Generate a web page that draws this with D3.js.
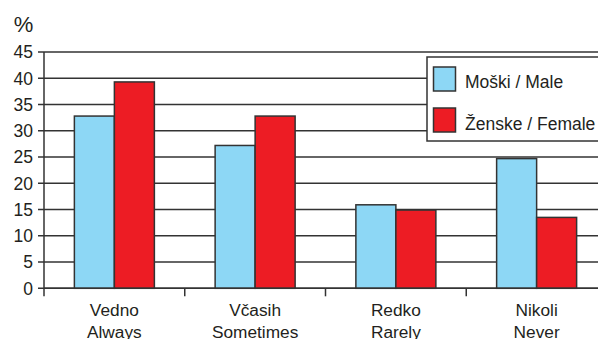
<!DOCTYPE html>
<html>
<head>
<meta charset="utf-8">
<script src="https://cdn.jsdelivr.net/npm/d3@7"></script>
<style>
  html, body { margin: 0; padding: 0; background: #fff; }
  svg { display: block; font-family: "Liberation Sans", Arial, Helvetica, sans-serif; }
</style>
</head>
<body>
<script>
// Answer categories (Slovene / English)
const categories = ["Vedno|Always", "Včasih|Sometimes", "Redko|Rarely", "Nikoli|Never"];
const seriesNames = ["Moški / Male", "Ženske / Female"];
const maleValues = [32.8, 27.2, 15.9, 24.7];
const femaleValues = [39.3, 32.8, 14.9, 13.5];
const yTicks = [0, 5, 10, 15, 20, 25, 30, 35, 40, 45];
const colors = ["#8dd7f5", "#ed1c24"];

const W = 598, H = 339;
const svg = d3.select("body").append("svg").attr("width", W).attr("height", H);

const x0 = 44, plotRight = 607, y0 = 288.3, yTop = 52;
const x = d3.scaleBand().domain(categories).range([x0, plotRight]).paddingInner(0).paddingOuter(0);
const y = d3.scaleLinear().domain([0, 45]).range([y0, yTop]);
const inner = d3.scaleBand().domain([0, 1]).range([0, 80]);

const ink = "#231f20";

// Horizontal gridlines with left ticks
svg.append("g").selectAll("line").data(yTicks).join("line")
  .attr("x1", x0 - 6).attr("x2", W)
  .attr("y1", d => y(d)).attr("y2", d => y(d))
  .attr("stroke", "#333").attr("stroke-width", 1.4);

// Y tick labels
svg.append("g").selectAll("text").data(yTicks).join("text")
  .attr("x", 33).attr("y", d => y(d) + 6.3)
  .attr("text-anchor", "end").attr("font-size", 17.5).attr("fill", ink)
  .text(d => d);

// Unit label
svg.append("text").attr("x", 23.5).attr("y", 31.7).attr("text-anchor", "middle")
  .attr("font-size", 22).attr("fill", ink).text("%");

// Bars
const data = categories.map((c, i) => ({ c, vals: [maleValues[i], femaleValues[i]] }));
const groups = svg.append("g").selectAll("g").data(data).join("g")
  .attr("transform", d => `translate(${x(d.c) + x.bandwidth() / 2 - 40},0)`);
groups.selectAll("rect").data(d => d.vals.map((v, k) => ({ v, k }))).join("rect")
  .attr("x", d => inner(d.k))
  .attr("width", inner.bandwidth())
  .attr("y", d => y(d.v))
  .attr("height", d => y(0) - y(d.v))
  .attr("fill", d => colors[d.k])
  .attr("stroke", "#333").attr("stroke-width", 1.5);

// Axes lines
svg.append("line").attr("x1", x0).attr("x2", x0).attr("y1", yTop).attr("y2", y0 + 8)
  .attr("stroke", "#333").attr("stroke-width", 1.5);
svg.append("line").attr("x1", x0).attr("x2", W).attr("y1", y0).attr("y2", y0)
  .attr("stroke", "#333").attr("stroke-width", 1.5);
// Category boundary ticks
svg.append("g").selectAll("line").data(categories.slice(1)).join("line")
  .attr("x1", d => x(d)).attr("x2", d => x(d))
  .attr("y1", y0).attr("y2", y0 + 8)
  .attr("stroke", "#333").attr("stroke-width", 1.5);

// Category labels (two lines)
const lab = svg.append("g").selectAll("text").data(categories).join("text")
  .attr("text-anchor", "middle").attr("font-size", 17.3).attr("fill", ink);
lab.append("tspan").attr("x", d => x(d) + x.bandwidth() / 2).attr("y", 316).text(d => d.split("|")[0]);
lab.append("tspan").attr("x", d => x(d) + x.bandwidth() / 2).attr("y", 338).text(d => d.split("|")[1]);

// Legend
const lg = svg.append("g");
lg.append("rect").attr("x", 427).attr("y", 57).attr("width", 190).attr("height", 84)
  .attr("fill", "#fff").attr("stroke", "#333").attr("stroke-width", 1.5);
seriesNames.forEach((name, i) => {
  lg.append("rect").attr("x", 433.5).attr("y", 67 + i * 41).attr("width", 22).attr("height", 24)
    .attr("fill", colors[i]).attr("stroke", "#333").attr("stroke-width", 1.5);
  lg.append("text").attr("x", 465).attr("y", 88.3 + i * 41.7).attr("font-size", 17.5).attr("fill", ink).text(name);
});
</script>
</body>
</html>
